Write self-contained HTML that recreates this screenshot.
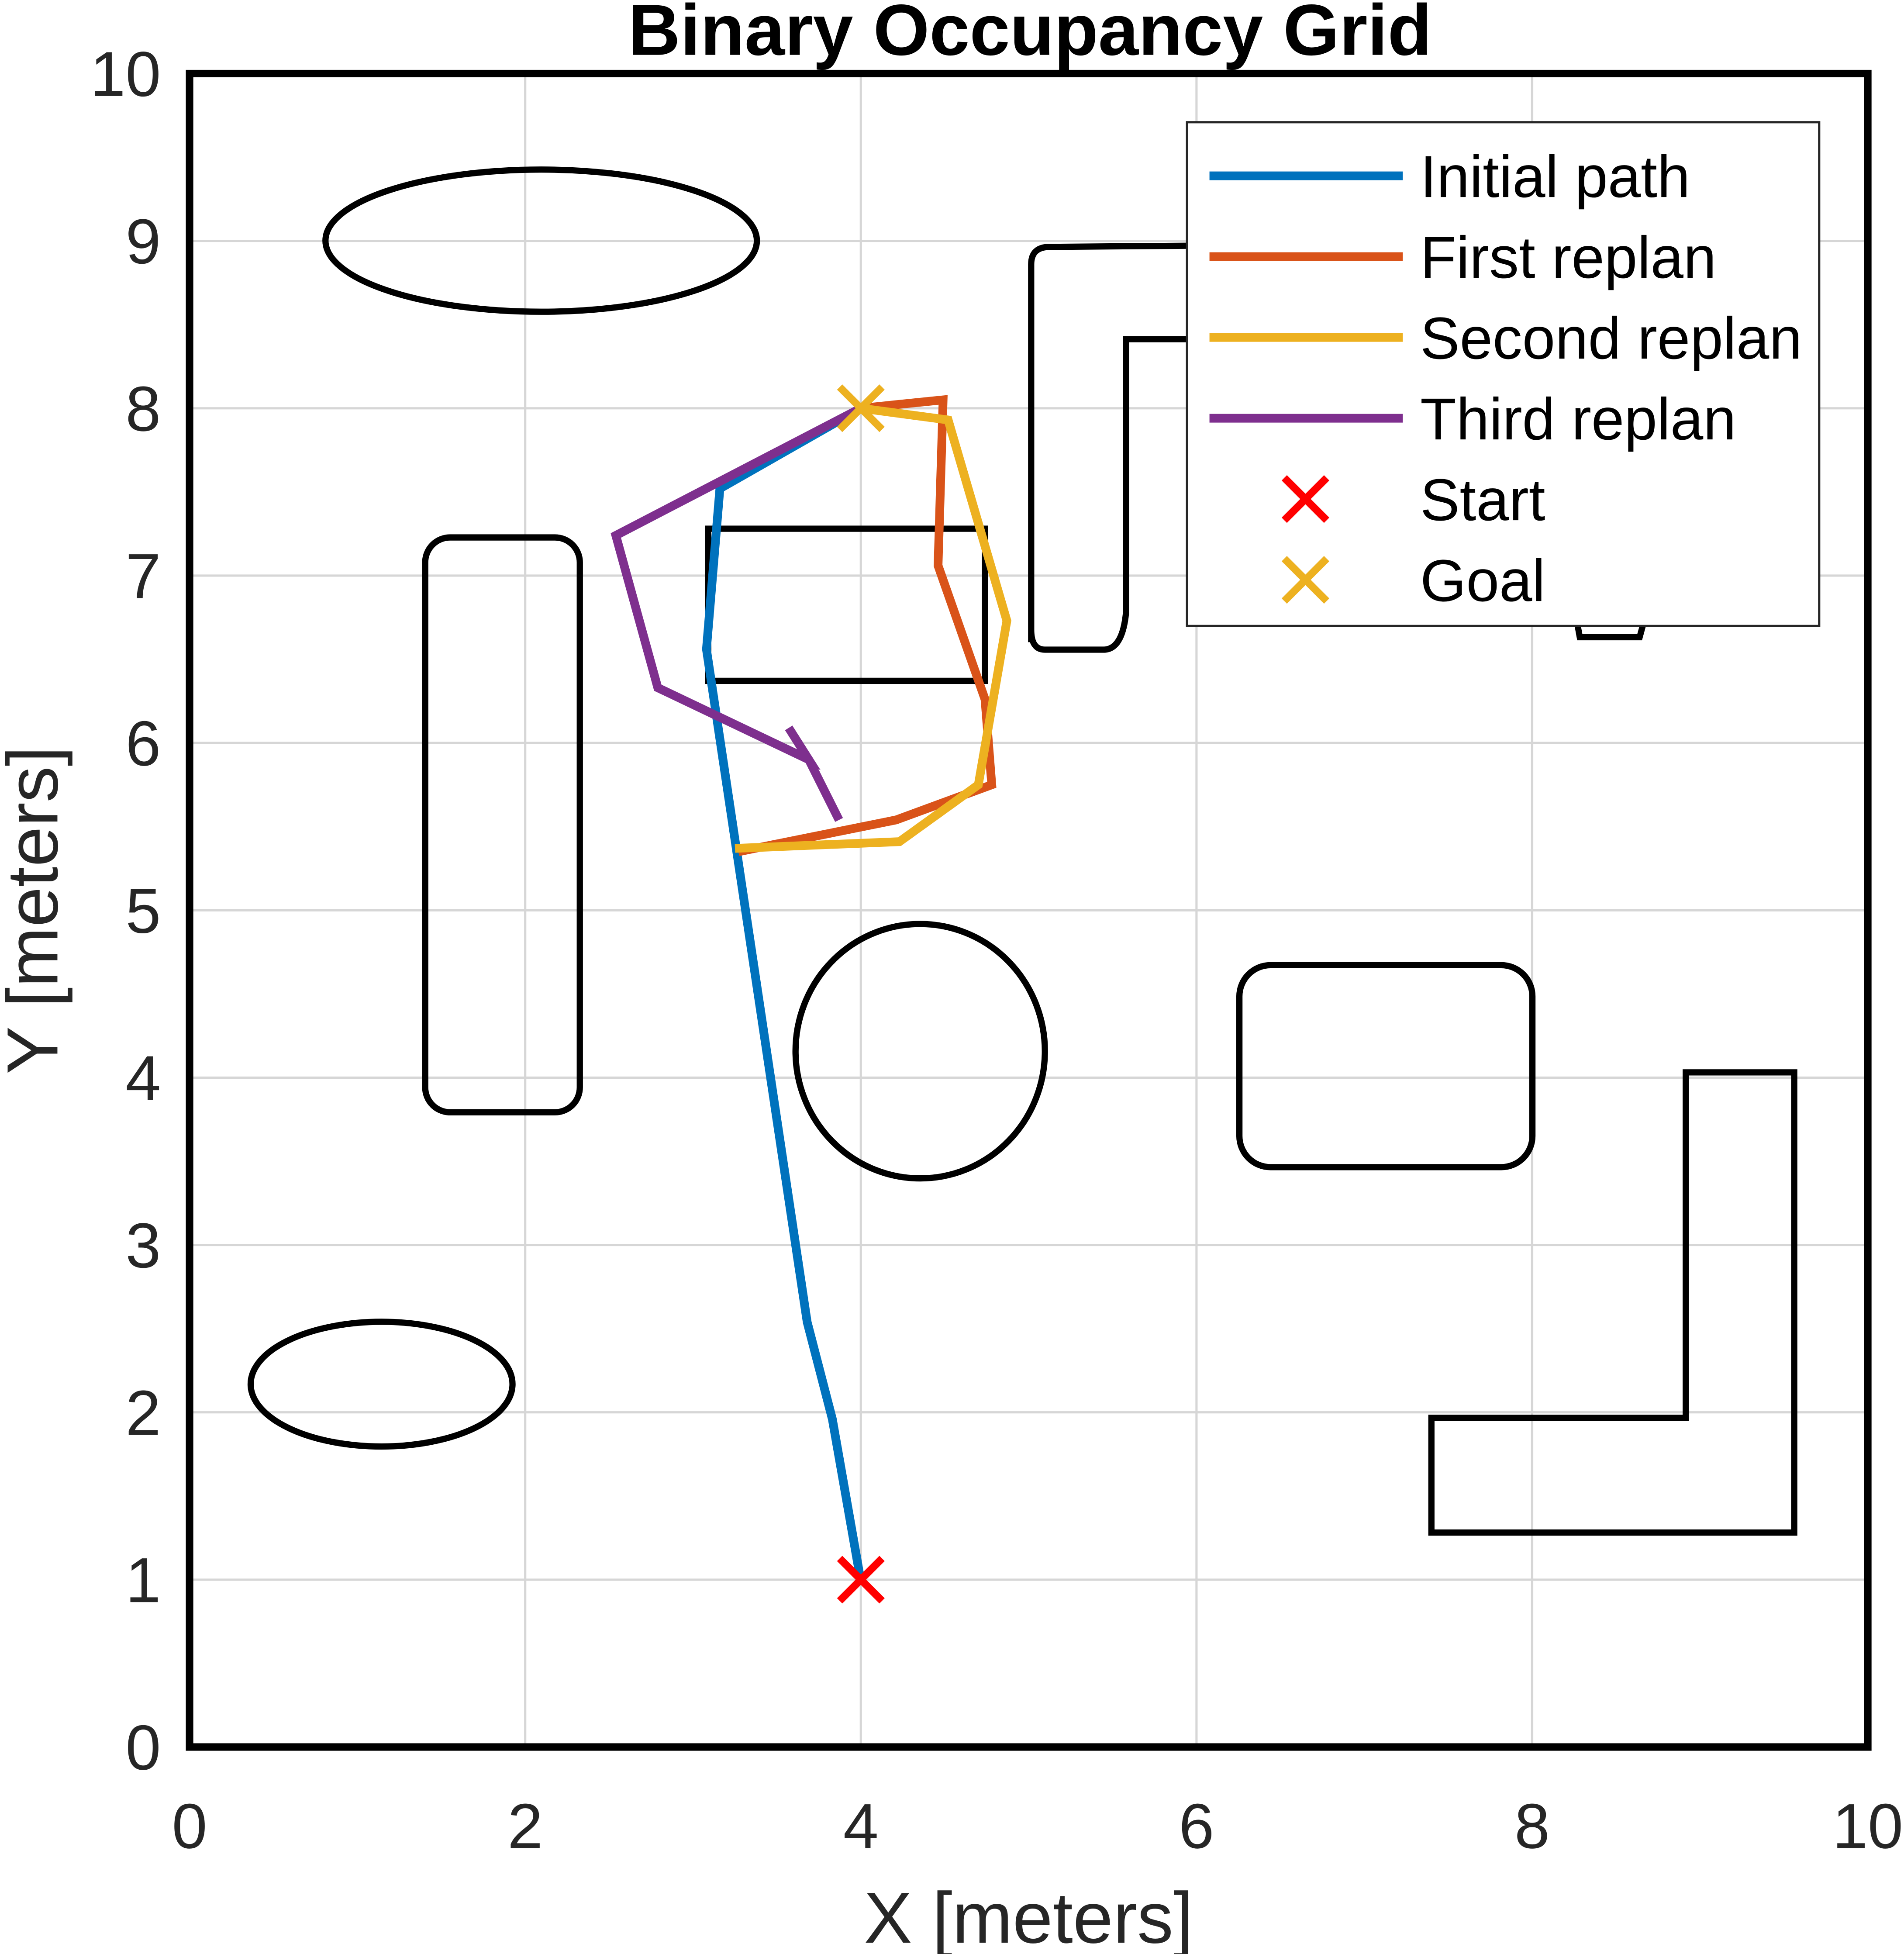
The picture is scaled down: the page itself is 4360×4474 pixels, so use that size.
<!DOCTYPE html>
<html><head><meta charset="utf-8"><style>html,body{margin:0;padding:0;background:#fff}svg{display:block}text{font-family:"Liberation Sans",Arial,sans-serif}</style></head>
<body>
<svg id="chart" width="4360" height="4474" viewBox="0 0 1527 1567" xmlns="http://www.w3.org/2000/svg">
<g id="grid"></g>
<g id="obstacles" fill="none" stroke="#000" stroke-width="5">
<ellipse cx="434" cy="193" rx="173" ry="57"/>
<rect x="341" y="431" width="124" height="461" rx="20"/>
<rect x="568" y="424" width="222" height="122"/>
<path d="M827 515 L827 212 Q827 198 842 198 L960 197 M960 272 L903 272 L903 492 Q900 521 885 521 L838 521 Q827 521 827 505"/>
<path d="M1265 500 L1267 511 L1315 511 L1318 500"/>
<ellipse cx="738" cy="843" rx="100" ry="102"/>
<rect x="994" y="774" width="235" height="162" rx="25"/>
<polygon points="1352,860 1439,860 1439,1229 1148,1229 1148,1137 1352,1137"/>
<ellipse cx="306" cy="1110" rx="105" ry="50"/>
</g>
<g id="paths"></g>
<rect x="152" y="59" width="1346" height="1342" fill="none" stroke="#000" stroke-width="6"/>
<g id="ticks" font-size="51" fill="#262626"></g>
<text x="826" y="44" text-anchor="middle" font-size="58" font-weight="bold">Binary Occupancy Grid</text>
<text x="825" y="1558" text-anchor="middle" font-size="58" fill="#262626">X [meters]</text>
<text transform="translate(46,730) rotate(-90)" text-anchor="middle" font-size="58" fill="#262626">Y [meters]</text>
<g id="legend"></g>
</svg>
<script>
const xTicks=[0,2,4,6,8,10];
const yTicks=[0,1,2,3,4,5,6,7,8,9,10];
const seriesNames=["Initial path","First replan","Second replan","Third replan"];
const seriesColors=["#0072BD","#D95319","#EDB120","#7E2F8E"];
const initialX=[4.0,3.83,3.68,3.08,3.16,4.0];
const initialY=[0.99,1.96,2.54,6.56,7.52,8.0];
const firstX=[3.27,4.21,4.78,4.74,4.46,4.49,4.0];
const firstY=[5.35,5.54,5.75,6.26,7.06,8.05,8.0];
const secondX=[3.25,4.23,4.70,4.87,4.52,4.0];
const secondY=[5.37,5.41,5.75,6.73,7.93,8.0];
const thirdX=[4.0,2.54,2.79,3.69,3.57,3.69,3.87];
const thirdY=[8.0,7.24,6.33,5.90,6.09,5.90,5.54];
const startPt=[4,1];
const goalPt=[4,8];
const NS="http://www.w3.org/2000/svg";
const sx=v=>152+v*134.6;
const sy=v=>1401-v*134.2;
function mk(tag,attrs,parent){const e=document.createElementNS(NS,tag);for(const k in attrs)e.setAttribute(k,attrs[k]);parent.appendChild(e);return e;}
const grid=document.getElementById('grid'),ticks=document.getElementById('ticks');
xTicks.forEach(t=>{
 const l=mk('line',{x1:sx(t),x2:sx(t),y1:59,y2:1401,stroke:'#d6d6d6','stroke-width':1.8},grid);
 
 
 const tx=mk('text',{x:sx(t),y:1482,'text-anchor':'middle'},ticks);tx.textContent=t;
 
 
});
yTicks.forEach(t=>{
 const l=mk('line',{x1:152,x2:1498,y1:sy(t),y2:sy(t),stroke:'#d6d6d6','stroke-width':1.8},grid);
 
 
 const tx=mk('text',{x:129,y:sy(t)+18,'text-anchor':'end'},ticks);tx.textContent=t;
 
 
});
const paths=document.getElementById('paths');
const all=[[initialX,initialY],[firstX,firstY],[secondX,secondY],[thirdX,thirdY]];
all.forEach((s,i)=>{
 const pts=s[0].map((x,j)=>sx(x)+','+sy(s[1][j])).join(' ');
 const p=mk('polyline',{points:pts,fill:'none',stroke:seriesColors[i],'stroke-width':7,'stroke-linejoin':'miter'},paths);
 
 
});
function cross(cx,cy,color,parent,name){
 const g=mk('g',{stroke:color,'stroke-width':6},parent);
 
 
 mk('line',{x1:cx-17,y1:cy-17,x2:cx+17,y2:cy+17},g);
 mk('line',{x1:cx-17,y1:cy+17,x2:cx+17,y2:cy-17},g);
}
cross(sx(startPt[0]),sy(startPt[1]),'#FF0000',paths,'start-marker');
cross(sx(goalPt[0]),sy(goalPt[1]),'#EDB120',paths,'goal-marker');
const lg=document.getElementById('legend');
const box=mk('rect',{x:952,y:98,width:507,height:404,fill:'#fff',stroke:'#262626','stroke-width':1.8},lg);


const labels=seriesNames.concat(["Start","Goal"]);
labels.forEach((n,i)=>{
 const y=141+i*64.8;
 if(i<4){const l=mk('line',{x1:970,x2:1125,y1:y,y2:y,stroke:seriesColors[i],'stroke-width':7},lg);
  
  }
 else cross(1047,y,i==4?'#FF0000':'#EDB120',lg,'legend-marker');
 const t=mk('text',{x:1139,y:y+17,'font-size':47.5,fill:'#000'},lg);t.textContent=n;
 
 
});
</script>
</body></html>
